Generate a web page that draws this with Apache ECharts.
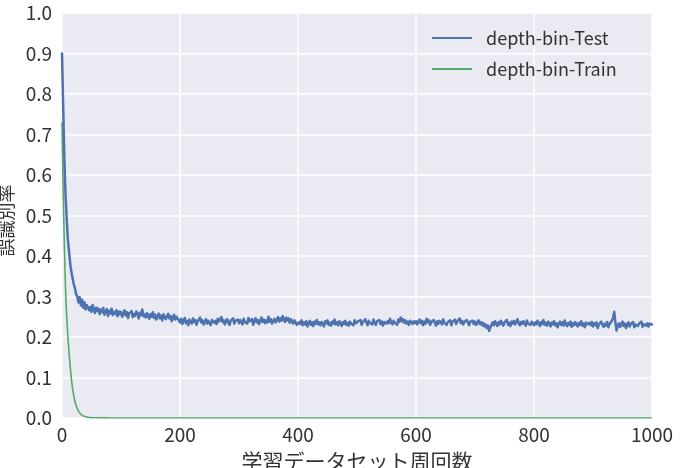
<!DOCTYPE html>
<html>
<head>
<meta charset="utf-8">
<script src="https://cdn.jsdelivr.net/npm/echarts@6/dist/echarts.min.js"></script>
<style>html,body{margin:0;padding:0;background:#fff;}#c{width:680px;height:468px;}</style>
</head>
<body>
<div id="c"></div>
<script>
// ---- data ----
var seriesNames = ['depth-bin-Test', 'depth-bin-Train'];
var xTicks = [0, 200, 400, 600, 800, 1000];
var yTicks = [0.0, 0.1, 0.2, 0.3, 0.4, 0.5, 0.6, 0.7, 0.8, 0.9, 1.0];

// Test: epochs 0..42 step 2
var testEarly = [0.90, 0.77, 0.64, 0.55, 0.49, 0.44, 0.41, 0.38, 0.36, 0.345, 0.33,
  0.32, 0.305, 0.30, 0.285, 0.298, 0.278, 0.292, 0.272, 0.286, 0.268, 0.279];
// Test: epochs 44..1000 step 2
var testLate = [
  0.281,0.266,0.274,0.262,0.279,0.268,0.259,0.273,0.264,0.270,0.256,0.268,0.261,0.272,0.255,0.263,0.269,0.252,0.265,0.258,0.270,0.254,0.262,0.257,0.266,0.251,0.263,0.256,
  0.262,0.250,0.258,0.266,0.253,0.261,0.247,0.259,0.255,0.264,
  0.249,0.257,0.252,0.263,0.258,0.246,0.260,0.254,0.268,0.251,
  0.256,0.248,0.259,0.253,0.245,0.257,0.250,0.261,0.247,0.255,
  0.243,0.252,0.258,0.246,0.253,0.241,0.256,0.249,0.244,0.251,
  0.257,0.246,0.252,0.239,0.248,0.255,0.243,0.250,0.246,0.241,
  0.236,0.245,0.232,0.241,0.247,0.234,0.240,0.229,0.243,0.238,
  0.233,0.246,0.237,0.242,0.230,0.239,0.235,0.248,0.236,0.241,
  0.231,0.238,0.244,0.233,0.240,0.236,0.229,0.242,0.246,0.235,
  0.240,0.232,0.245,0.238,0.234,0.249,0.237,0.242,0.231,0.239,
  0.244,0.235,0.230,0.241,0.237,0.246,0.233,0.240,0.236,0.243,
  0.234,0.242,0.238,0.231,0.245,0.237,0.241,0.233,0.247,0.239,
  0.235,0.244,0.230,0.240,0.246,0.236,0.242,0.232,0.239,0.248,
  0.237,0.243,0.234,0.241,0.236,0.250,0.238,0.244,0.233,0.240,
  0.245,0.236,0.242,0.249,0.238,0.246,0.240,0.252,0.243,0.237,
  0.248,0.241,0.246,0.235,0.244,0.239,0.233,0.241,0.236,0.230,
  0.228,0.237,0.232,0.241,0.229,0.236,0.231,0.239,0.226,0.235,
  0.240,0.230,0.236,0.227,0.238,0.233,0.242,0.231,0.236,0.229,
  0.237,0.232,0.226,0.239,0.234,0.241,0.230,0.235,0.228,0.238,
  0.233,0.243,0.231,0.236,0.229,0.239,0.234,0.227,0.237,0.232,
  0.240,0.230,0.235,0.228,0.238,0.233,0.236,0.229,0.241,0.234,
  0.231,0.239,0.235,0.242,0.230,0.237,0.233,0.244,0.236,0.229,
  0.240,0.234,0.238,0.231,0.243,0.235,0.230,0.239,0.236,0.242,
  0.232,0.238,0.228,0.237,0.241,0.233,0.239,0.234,0.245,0.236,
  0.231,0.240,0.235,0.238,0.230,0.243,0.237,0.248,0.239,0.244,
  0.235,0.241,0.233,0.238,0.230,0.240,0.236,0.232,0.239,0.234,
  0.239,0.231,0.237,0.243,0.234,0.240,0.229,0.238,0.233,0.245,
  0.236,0.241,0.230,0.237,0.234,0.242,0.235,0.228,0.239,0.233,
  0.240,0.236,0.231,0.244,0.235,0.239,0.230,0.237,0.233,0.241,
  0.229,0.238,0.235,0.243,0.232,0.239,0.236,0.246,0.234,0.240,
  0.231,0.237,0.233,0.242,0.236,0.229,0.238,0.234,0.240,0.232,
  0.238,0.230,0.236,0.241,0.232,0.237,0.229,0.235,0.226,0.231,
  0.222,0.228,0.215,0.224,0.230,0.236,0.229,0.239,0.233,0.227,
  0.237,0.231,0.240,0.234,0.228,0.236,0.232,0.242,0.230,0.235,
  0.227,0.238,0.233,0.240,0.231,0.236,0.244,0.234,0.229,0.237,
  0.232,0.239,0.235,0.228,0.241,0.233,0.237,0.230,0.238,0.234,
  0.229,0.236,0.231,0.240,0.234,0.227,0.237,0.232,0.242,0.230,
  0.235,0.228,0.238,0.233,0.226,0.236,0.231,0.239,0.229,0.234,
  0.224,0.233,0.238,0.230,0.236,0.228,0.241,0.232,0.227,0.235,
  0.230,0.238,0.225,0.234,0.229,0.237,0.231,0.226,0.235,0.230,
  0.239,0.228,0.233,0.224,0.236,0.231,0.227,0.235,0.229,0.237,
  0.226,0.234,0.229,0.236,0.222,0.231,0.227,0.238,0.230,0.225,
  0.233,0.228,0.237,0.224,0.232,0.229,0.240,0.248,0.262,0.236,
  0.216,0.228,0.234,0.225,0.231,0.238,0.227,0.233,0.222,0.230,
  0.236,0.226,0.232,0.228,0.237,0.224,0.231,0.235,0.227,0.233,
  0.229,0.238,0.225,0.232,0.236,0.228,0.234,0.226,0.233,0.229,
  0.231];

var trainEpochs = [0,1,2,3,4,5,6,7,8,10,12,14,16,18,20,22,25,28,32,36,40,45,50,60,80,100,200,300,400,500,600,700,800,900,1000];
var trainValues = [0.73,0.64,0.56,0.49,0.43,0.37,0.32,0.28,0.25,0.20,0.16,0.125,0.095,0.072,0.055,0.04,0.026,0.017,0.009,0.005,0.003,0.0015,0.001,0.0005,0.0002,0.0001,0,0,0,0,0,0,0,0,0];

// ---- build series data ----
var testData = [];
testEarly.forEach(function (v, i) { testData.push([i * 2, v]); });
testLate.forEach(function (v, i) { testData.push([44 + i * 2, v]); });
var trainData = trainEpochs.map(function (e, i) { return [e, trainValues[i]]; });

var FONT = '"Noto Sans CJK JP", "Noto Sans", sans-serif';
var chart = echarts.init(document.getElementById('c'), null, {renderer: 'canvas'});
chart.setOption({
  animation: false,
  backgroundColor: '#ffffff',
  grid: {left: 62, right: 28, top: 13, bottom: 50, show: true, backgroundColor: '#EAEAF2',
         borderWidth: 0, containLabel: false, outerBoundsMode: 'none'},
  legend: {
    orient: 'vertical', left: 427, top: 24, itemWidth: 40, itemHeight: 2, itemGap: 13,
    icon: 'rect',
    data: seriesNames,
    textStyle: {fontFamily: FONT, fontSize: 18, color: '#333', padding: [0, 0, 0, 9]}
  },
  xAxis: {
    type: 'value', min: xTicks[0], max: xTicks[xTicks.length - 1], interval: 200,
    name: '学習データセット周回数', nameLocation: 'middle', nameGap: 33,
    nameTextStyle: {fontFamily: FONT, fontSize: 21, color: '#333'},
    axisLine: {show: false}, axisTick: {show: false},
    axisLabel: {fontFamily: FONT, fontSize: 19, color: '#333', margin: 7,
      formatter: function (v) { return String(v); }},
    splitLine: {show: true, lineStyle: {color: '#ffffff', width: 1.5}}
  },
  yAxis: {
    type: 'value', min: yTicks[0], max: yTicks[yTicks.length - 1], interval: 0.1,
    name: '誤識別率', nameLocation: 'middle', nameGap: 47,
    nameTextStyle: {fontFamily: FONT, fontSize: 18, color: '#333', padding: [0, 0, 0, -10]},
    axisLine: {show: false}, axisTick: {show: false},
    axisLabel: {fontFamily: FONT, fontSize: 19, color: '#333', margin: 10,
      formatter: function (v) { return v.toFixed(1); }},
    splitLine: {show: true, lineStyle: {color: '#ffffff', width: 1.5}}
  },
  series: [
    {name: seriesNames[0], type: 'line', data: testData, showSymbol: false, symbol: 'none',
     color: '#4C72B0', lineStyle: {color: '#4C72B0', width: 2.5, join: 'round', cap: 'round'}, z: 3},
    {name: seriesNames[1], type: 'line', data: trainData, showSymbol: false, symbol: 'none',
     color: '#55A868', lineStyle: {color: '#55A868', width: 1.6}, z: 2}
  ]
});
</script>
</body>
</html>
